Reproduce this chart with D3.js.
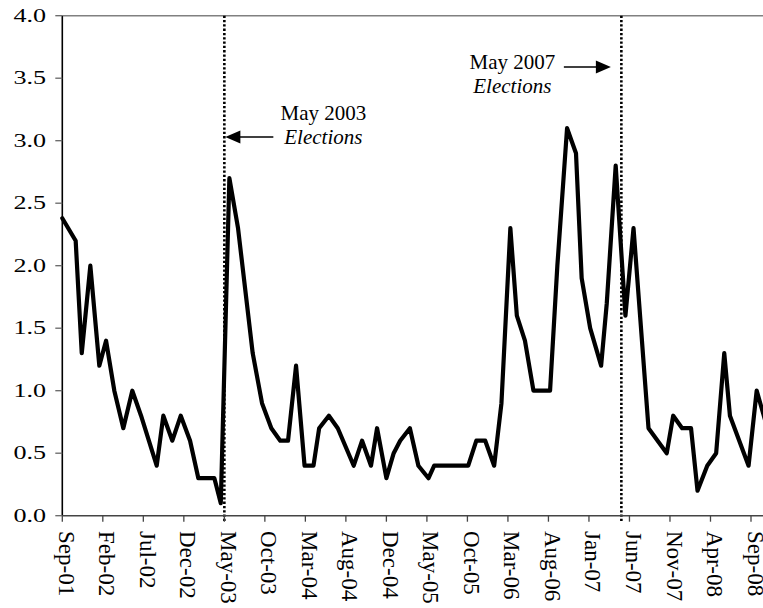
<!DOCTYPE html>
<html>
<head>
<meta charset="utf-8">
<script src="https://cdn.jsdelivr.net/npm/d3@7"></script>
<style>
  html, body { margin: 0; padding: 0; background: #fff; }
  svg { display: block; }
</style>
</head>
<body>
<svg id="chart" width="763" height="608"></svg>
<script>
// Position of each observation, in months counted from Sep-01
const months = [0, 1.65, 2.4, 3.46, 4.57, 5.4, 6.42, 7.53, 8.64, 9.72, 11.65, 12.47, 13.58, 14.62, 15.77, 16.79, 18.77, 19.56,
  20.62, 21.69, 23.5, 24.65, 25.8, 26.9, 27.86, 28.85, 29.9, 31.0, 31.7, 32.9, 34.0, 35.97, 37.0, 38.1, 38.85, 40.0, 40.9,
  41.7, 42.9, 43.95, 45.2, 45.9, 48.1, 49.2, 50.1, 51.1, 52.2, 53.3, 54.2, 55.3, 56.1, 57.1, 58.15, 60.2, 61.1, 62.3, 63.4,
  64.1, 65.15, 66.5, 67.2, 68.3, 69.5, 70.5, 72.35, 74.6, 75.4, 76.5, 77.6, 78.4, 79.6, 80.7, 81.7, 82.4, 84.7, 85.7, 86.8];
const values = [2.38, 2.2, 1.3, 2.0, 1.2, 1.4, 1.0, 0.7, 1.0, 0.8, 0.4, 0.8, 0.6, 0.8, 0.6, 0.3, 0.3, 0.1,
  2.7, 2.3, 1.3, 0.9, 0.7, 0.6, 0.6, 1.2, 0.4, 0.4, 0.7, 0.8, 0.7, 0.4, 0.6, 0.4, 0.7, 0.3, 0.5,
  0.6, 0.7, 0.4, 0.3, 0.4, 0.4, 0.4, 0.4, 0.6, 0.6, 0.4, 0.9, 2.3, 1.6, 1.4, 1.0, 1.0, 2.0, 3.1, 2.9,
  1.9, 1.5, 1.2, 1.7, 2.8, 1.6, 2.3, 0.7, 0.5, 0.8, 0.7, 0.7, 0.2, 0.4, 0.5, 1.3, 0.8, 0.4, 1.0, 0.75];
const tickLabels = ["Sep-01", "Feb-02", "Jul-02", "Dec-02", "May-03", "Oct-03", "Mar-04", "Aug-04", "Dec-04",
  "May-05", "Oct-05", "Mar-06", "Aug-06", "Jan-07", "Jun-07", "Nov-07", "Apr-08", "Sep-08"];
const tickMonths = [0, 5, 10, 15, 20, 25, 30, 35, 40, 45, 50, 55, 60, 65, 70, 75, 80, 85];
const yTicks = [0, 0.5, 1, 1.5, 2, 2.5, 3, 3.5, 4];
const elections = [
  { month: 20, line1: "May 2003", line2: "Elections" },
  { month: 69, line1: "May 2007", line2: "Elections" }
];

const svg = d3.select("#chart");
const plotLeft = 62.3, plotTop = 15.7, plotBottom = 515.7;
const x = d3.scaleLinear().domain([0, 85]).range([plotLeft, 751]);
const y = d3.scaleLinear().domain([0, 4]).range([plotBottom, plotTop]);
const rightEdge = 775;

const serif = "'Liberation Serif', 'Times New Roman', serif";

// top border
svg.append("line").attr("x1", plotLeft).attr("x2", rightEdge).attr("y1", y(4)).attr("y2", y(4))
  .attr("stroke", "#808080").attr("stroke-width", 1.5);

// election dotted lines
svg.selectAll("line.elec").data(elections).join("line").attr("class", "elec")
  .attr("x1", d => x(d.month)).attr("x2", d => x(d.month))
  .attr("y1", y(4)).attr("y2", y(0) + 6)
  .attr("stroke", "#000").attr("stroke-width", 2.6).attr("stroke-dasharray", "2.3,2");

// y axis
const yAxis = svg.append("g");
yAxis.append("line").attr("x1", plotLeft).attr("x2", plotLeft).attr("y1", y(4)).attr("y2", y(0))
  .attr("stroke", "#000").attr("stroke-width", 1.6);
yAxis.selectAll("line.yt").data(yTicks).join("line").attr("class", "yt")
  .attr("x1", plotLeft - 7).attr("x2", plotLeft).attr("y1", d => y(d)).attr("y2", d => y(d))
  .attr("stroke", "#666").attr("stroke-width", 1.3);
yAxis.selectAll("g.yl").data(yTicks).join("g").attr("class", "yl")
  .attr("transform", d => `translate(46,${y(d)}) scale(1.45,1)`)
  .append("text").attr("text-anchor", "end").attr("dy", "0.34em")
  .attr("font-family", serif).attr("font-size", 18).attr("fill", "#000")
  .text(d => d3.format(".1f")(d));

// x axis
const xAxis = svg.append("g");
xAxis.append("line").attr("x1", plotLeft).attr("x2", rightEdge).attr("y1", y(0)).attr("y2", y(0))
  .attr("stroke", "#444").attr("stroke-width", 1.5);
xAxis.selectAll("line.xt").data(tickMonths).join("line").attr("class", "xt")
  .attr("x1", d => x(d)).attr("x2", d => x(d)).attr("y1", y(0)).attr("y2", y(0) + 6)
  .attr("stroke", "#444").attr("stroke-width", 1.3);
xAxis.selectAll("text.xl").data(tickMonths).join("text").attr("class", "xl")
  .attr("transform", d => `translate(${x(d)},531) rotate(90)`)
  .attr("dy", "0.15em").attr("text-anchor", "start")
  .attr("font-family", serif).attr("font-size", 23).attr("fill", "#000")
  .text((d, i) => tickLabels[i]);

// series line
const pts = months.map((m, i) => [m, values[i]]);
svg.append("path").datum(pts)
  .attr("d", d3.line().x(d => x(d[0])).y(d => y(d[1])))
  .attr("fill", "none").attr("stroke", "#000").attr("stroke-width", 4.2)
  .attr("stroke-linejoin", "round").attr("stroke-linecap", "round");

// annotations
const ann = svg.append("g").attr("font-family", serif).attr("font-size", 21).attr("fill", "#000");
{
  const d = elections[0];
  const tipX = x(d.month) + 1, ay = y(3.03);
  ann.append("line").attr("x1", tipX + 14).attr("x2", tipX + 48).attr("y1", ay).attr("y2", ay)
    .attr("stroke", "#000").attr("stroke-width", 1.5);
  ann.append("path").attr("d", `M${tipX},${ay} L${tipX + 15},${ay - 6.5} L${tipX + 15},${ay + 6.5} Z`).attr("fill", "#000");
  ann.append("text").attr("x", x(d.month) + 99).attr("y", y(3.165)).attr("text-anchor", "middle").text(d.line1);
  ann.append("text").attr("x", x(d.month) + 99).attr("y", y(2.97)).attr("text-anchor", "middle")
    .attr("font-style", "italic").text(d.line2);
}
{
  const d = elections[1];
  const tipX = x(d.month) - 10.5, ay = y(3.59);
  ann.append("line").attr("x1", tipX - 47).attr("x2", tipX - 14).attr("y1", ay).attr("y2", ay)
    .attr("stroke", "#000").attr("stroke-width", 1.5);
  ann.append("path").attr("d", `M${tipX},${ay} L${tipX - 15},${ay - 6.5} L${tipX - 15},${ay + 6.5} Z`).attr("fill", "#000");
  ann.append("text").attr("x", x(d.month) - 109).attr("y", y(3.57)).attr("text-anchor", "middle").text(d.line1);
  ann.append("text").attr("x", x(d.month) - 109).attr("y", y(3.385)).attr("text-anchor", "middle")
    .attr("font-style", "italic").text(d.line2);
}
</script>
</body>
</html>
